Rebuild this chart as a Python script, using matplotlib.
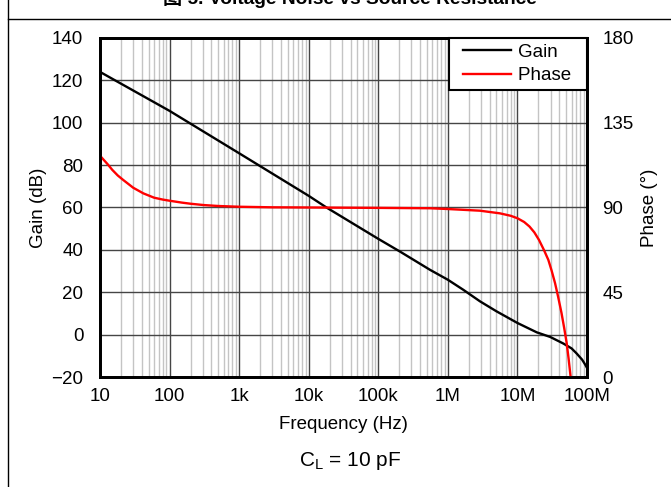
import numpy as np
import matplotlib.pyplot as plt
from matplotlib.lines import Line2D
from matplotlib.legend_handler import HandlerLine2D
from matplotlib.ticker import FixedLocator, LogLocator, NullFormatter

plt.rcParams['font.family'] = ['Liberation Sans', 'Noto Sans CJK SC', 'DejaVu Sans']

# Gain curve (Hz, dB)
gain_freq = [10, 100, 1e3, 1e4, 1.8e4, 1e5, 2.05e5, 5.53e5, 1e6, 1.66e6, 2.9e6, 5e6,
             1e7, 1.89e7, 2.96e7, 4.57e7, 6e7, 7.1e7, 8.5e7, 9.4e7, 1e8]
gain_db = [124, 105.6, 85.6, 65.5, 60, 45.2, 39.2, 30.6, 25.9, 21.2, 15.7, 11,
           5.5, 1.1, -1.1, -4.2, -6.5, -8.9, -11.8, -14.1, -15.7]

# Phase curve (Hz, degrees)
phase_freq = [10, 13, 15, 18, 21.6, 30, 42, 60, 80, 100, 150, 200, 309, 500, 1e3, 3e3,
              1e4, 1e5, 5.53e5, 1e6, 2.9e6, 5.6e6, 8e6, 1e7, 1.25e7, 1.49e7, 1.75e7,
              2.04e7, 2.4e7, 2.78e7, 3.1e7, 3.47e7, 3.85e7, 4.3e7, 4.7e7, 5.1e7,
              5.45e7, 5.8e7]
phase_deg = [117.5, 112.8, 110, 107, 104.6, 100.5, 97.5, 95.2, 94.2, 93.6, 92.6, 92,
             91.3, 90.8, 90.4, 90.1, 90, 89.8, 89.6, 89.2, 88.3, 86.9, 85.6, 84.3,
             82.3, 79.9, 76.8, 72.8, 67.5, 62.2, 56.5, 49.9, 42.5, 34, 26, 18.1,
             9.5, 0.4]

x_ticks = [10, 100, 1e3, 1e4, 1e5, 1e6, 1e7, 1e8]
x_labels = ['10', '100', '1k', '10k', '100k', '1M', '10M', '100M']
gain_ticks = [-20, 0, 20, 40, 60, 80, 100, 120, 140]
phase_ticks = [0, 45, 90, 135, 180]

fig = plt.figure(figsize=(6.71, 4.87), dpi=100)
ax = fig.add_axes([100 / 671, 1 - 377 / 487, 487 / 671, 339 / 487])
ax2 = ax.twinx()

ax.set_xscale('log')
ax.set_xlim(10, 1e8)
ax.set_ylim(-20, 140)
ax2.set_ylim(0, 180)

ax.xaxis.set_major_locator(FixedLocator(x_ticks))
ax.set_xticklabels(x_labels)
ax.xaxis.set_minor_locator(LogLocator(base=10, subs=np.arange(2, 10), numticks=20))
ax.xaxis.set_minor_formatter(NullFormatter())
ax.set_yticks(gain_ticks)
ax.set_yticklabels([str(t).replace('-', '\u2212') for t in gain_ticks])
ax2.set_yticks(phase_ticks)

ax.grid(which='minor', axis='x', color='#c4c4c4', lw=1.0)
ax.grid(which='major', axis='both', color='#454545', lw=1.0)
ax.set_axisbelow(True)

ax.tick_params(which='both', length=0, labelsize=13.5)
ax.tick_params(axis='x', pad=8)
ax.tick_params(axis='y', pad=12)
ax2.tick_params(length=0, labelsize=13.5, pad=11)

for a in (ax, ax2):
    for s in a.spines.values():
        s.set_linewidth(2)
        s.set_color('black')

g, = ax.plot(gain_freq, gain_db, color='black', lw=1.7, label='Gain')
p, = ax2.plot(phase_freq, phase_deg, color='red', lw=1.7, label='Phase')

# line handles inset from the legend box edge, as in the original
hl = HandlerLine2D(numpoints=2, marker_pad=0.45)
leg = ax2.legend(handles=[g, p], labels=['Gain', 'Phase  '], loc='upper right',
                 borderaxespad=0, fontsize=13.5, frameon=True, fancybox=False,
                 edgecolor='black', framealpha=1, handlelength=3.45,
                 labelspacing=0.35, handletextpad=-0.1, borderpad=0.3,
                 handler_map={g: hl, p: hl})
leg.get_frame().set_linewidth(1.5)

ax.set_xlabel('Frequency (Hz)', fontsize=13.5, labelpad=8)
ax.set_ylabel('Gain (dB)', fontsize=13.5, labelpad=3)
ax2.set_ylabel('Phase (°)', fontsize=13.5, labelpad=5)

fig.text(350 / 671, 1 - 461 / 487, '$\\mathregular{C_L}$ = 10 pF', ha='center', va='center', fontsize=15)

# cut-off title and page frame
fig.text(350 / 671, 1 - 4 / 487, '图 5. Voltage Noise vs Source Resistance',
         ha='center', va='baseline', fontsize=13.8, fontweight='bold')
fig.add_artist(Line2D([7.5 / 671, 7.5 / 671], [0, 1], transform=fig.transFigure, color='black', lw=1))
fig.add_artist(Line2D([7.5 / 671, 1], [1 - 18.5 / 487, 1 - 18.5 / 487], transform=fig.transFigure, color='black', lw=1))

fig.savefig('out.png', dpi=100)
